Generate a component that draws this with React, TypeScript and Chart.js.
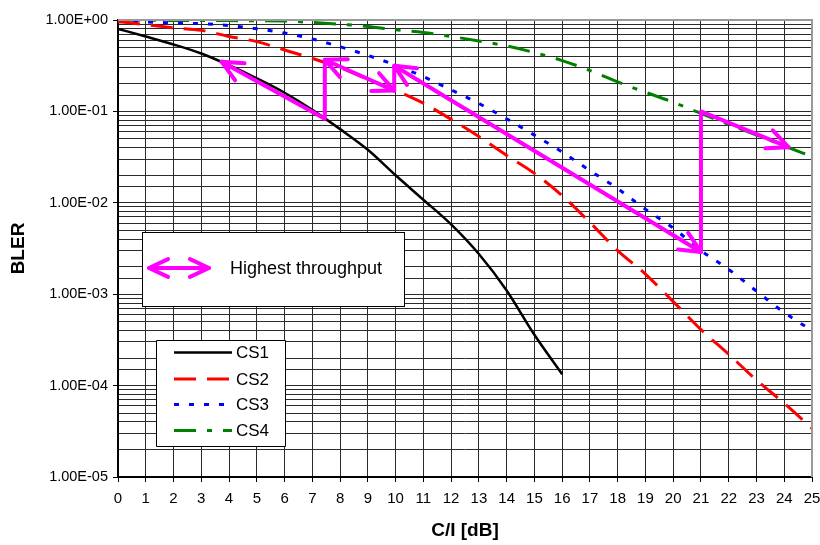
import React, { useEffect, useRef } from 'react';
import { Chart, registerables } from 'chart.js';

Chart.register(...registerables);

// ---- data ----
const ciValues = [0, 1, 2, 3, 4, 5, 6, 7, 8, 9, 10, 11, 12, 13, 14, 15, 16, 17, 18, 19, 20, 21, 22, 23, 24, 25];
const cs1 = [0.80, 0.66, 0.54, 0.43, 0.32, 0.23, 0.16, 0.104, 0.064, 0.038, 0.020, 0.0108, 0.0058, 0.00275, 0.0011, 0.00036, 0.000133];
const cs2 = [0.96, 0.89, 0.82, 0.77, 0.66, 0.58, 0.47, 0.38, 0.30, 0.225, 0.17, 0.123, 0.082, 0.053, 0.033, 0.021, 0.012, 0.0061, 0.003, 0.00166, 0.00083, 0.00041, 0.00022, 0.000115, 0.000064, 0.000034];
const cs3 = [0.97, 0.95, 0.93, 0.91, 0.87, 0.80, 0.72, 0.62, 0.51, 0.41, 0.32, 0.24, 0.172, 0.122, 0.083, 0.055, 0.036, 0.0225, 0.0143, 0.0085, 0.0053, 0.0030, 0.00187, 0.00108, 0.00063, 0.00040];
const cs4 = [0.995, 0.993, 0.99, 0.99, 0.985, 0.98, 0.975, 0.94, 0.90, 0.85, 0.78, 0.73, 0.66, 0.59, 0.52, 0.44, 0.36, 0.28, 0.21, 0.162, 0.126, 0.095, 0.072, 0.055, 0.042, 0.032];
const seriesNames = ['CS1', 'CS2', 'CS3', 'CS4'];

// "Highest throughput" path (C/I, BLER)
const pathX = [3.73, 7.45, 7.45, 9.95, 9.95, 21, 21, 24.15];
const pathY = [0.35, 0.083, 0.367, 0.169, 0.316, 0.0029, 0.1, 0.0406];
// arrow heads: [from index, tip index]
const headPairs = [[1, 0], [3, 2], [2, 3], [5, 4], [4, 5], [6, 7]];
const legendNote = 'Highest throughput';

const FONT = "'Liberation Sans', Arial, Helvetica, sans-serif";
const MAGENTA = '#FF00FF';

function isDecade(v: number) {
  if (!v) return false;
  const e = Math.log10(v);
  return Math.abs(e - Math.round(e)) < 1e-6;
}
function fmtE(v: number) {
  const e = Math.round(Math.log10(v));
  const s = e < 0 ? '-' : '+';
  return `1.00E${s}${String(Math.abs(e)).padStart(2, '0')}`;
}

function drawHead(ctx: CanvasRenderingContext2D, fx: number, fy: number, tx: number, ty: number, len = 23, ang = 25) {
  const a = Math.atan2(ty - fy, tx - fx);
  const r = (ang * Math.PI) / 180;
  ctx.beginPath();
  ctx.moveTo(tx + len * Math.cos(a + Math.PI - r), ty + len * Math.sin(a + Math.PI - r));
  ctx.lineTo(tx, ty);
  ctx.lineTo(tx + len * Math.cos(a + Math.PI + r), ty + len * Math.sin(a + Math.PI + r));
  ctx.stroke();
}

export default function App() {
  const ref = useRef<HTMLCanvasElement>(null);
  useEffect(() => {
    document.body.style.margin = '0';
    const canvas = ref.current!;
    const toPts = (ys: number[]) => ys.map((y, i) => ({ x: ciValues[i], y }));

    const overlay = {
      id: 'overlay',
      afterDatasetsDraw(chart: any) {
        const { ctx, chartArea, scales } = chart;
        const xs = scales.x, ys = scales.y;
        ctx.save();
        // plot area border top/right (gray)
        ctx.strokeStyle = '#9a9a9a';
        ctx.lineWidth = 2;
        ctx.beginPath();
        ctx.moveTo(chartArea.left, chartArea.top);
        ctx.lineTo(chartArea.right, chartArea.top);
        ctx.lineTo(chartArea.right, chartArea.bottom);
        ctx.stroke();
        // arrow heads
        ctx.strokeStyle = MAGENTA;
        ctx.lineWidth = 4;
        ctx.lineCap = 'round';
        ctx.lineJoin = 'round';
        headPairs.forEach(([f, t]) => {
          drawHead(ctx,
            xs.getPixelForValue(pathX[f]), ys.getPixelForValue(pathY[f]),
            xs.getPixelForValue(pathX[t]), ys.getPixelForValue(pathY[t]));
        });
        ctx.restore();
      },
      afterDraw(chart: any) {
        const { ctx } = chart;
        ctx.save();
        // legend box 1
        ctx.fillStyle = '#fff';
        ctx.strokeStyle = '#000';
        ctx.lineWidth = 1;
        ctx.fillRect(142.5, 232.5, 262, 74);
        ctx.strokeRect(142.5, 232.5, 262, 74);
        ctx.strokeStyle = MAGENTA;
        ctx.lineWidth = 4;
        ctx.lineCap = 'round';
        ctx.lineJoin = 'round';
        ctx.beginPath();
        ctx.moveTo(149, 268);
        ctx.lineTo(209, 268);
        ctx.stroke();
        drawHead(ctx, 209, 268, 149, 268, 21, 25);
        drawHead(ctx, 149, 268, 209, 268, 21, 25);
        ctx.fillStyle = '#000';
        ctx.font = `18px ${FONT}`;
        ctx.textBaseline = 'middle';
        ctx.textAlign = 'left';
        ctx.fillText(legendNote, 230, 269);

        // legend box 2
        ctx.fillStyle = '#fff';
        ctx.strokeStyle = '#000';
        ctx.lineWidth = 1;
        ctx.lineCap = 'butt';
        ctx.fillRect(156.5, 340.5, 129, 106);
        ctx.strokeRect(156.5, 340.5, 129, 106);
        const rows = [352.5, 379, 404.5, 430.5];
        chart.data.datasets.slice(1, 5).forEach((ds: any, i: number) => {
          ctx.save();
          ctx.strokeStyle = ds.borderColor;
          ctx.lineWidth = ds.borderWidth;
          ctx.setLineDash(ds.borderDash || []);
          ctx.beginPath();
          ctx.moveTo(174, rows[i]);
          ctx.lineTo(232, rows[i]);
          ctx.stroke();
          ctx.restore();
          ctx.fillStyle = '#000';
          ctx.font = `17px ${FONT}`;
          ctx.textBaseline = 'middle';
          ctx.fillText(ds.label, 236, rows[i] + 1);
        });
        ctx.restore();
      },
    };

    const chart = new Chart(canvas, {
      type: 'line',
      data: {
        datasets: [
          {
            label: 'path',
            data: pathX.map((x, i) => ({ x, y: pathY[i] })),
            borderColor: MAGENTA,
            borderWidth: 4,
            tension: 0,
            borderCapStyle: 'round',
            borderJoinStyle: 'round',
            order: 0,
          },
          { label: seriesNames[0], data: toPts(cs1), borderColor: '#000000', borderWidth: 2.5, cubicInterpolationMode: 'monotone', order: 1 },
          { label: seriesNames[1], data: toPts(cs2), borderColor: '#FF0000', borderWidth: 3, borderDash: [22, 11], cubicInterpolationMode: 'monotone', order: 2 },
          { label: seriesNames[2], data: toPts(cs3), borderColor: '#0000FF', borderWidth: 3, borderDash: [5, 10], cubicInterpolationMode: 'monotone', order: 3 },
          { label: seriesNames[3], data: toPts(cs4), borderColor: '#008000', borderWidth: 3, borderDash: [22, 11, 5, 11], cubicInterpolationMode: 'monotone', order: 4 },
        ] as any,
      },
      options: {
        responsive: false,
        animation: false,
        events: [],
        layout: { padding: { left: 0, right: 8, top: 20, bottom: 0 } },
        elements: { point: { radius: 0 } },
        plugins: { legend: { display: false }, tooltip: { enabled: false } },
        scales: {
          x: {
            type: 'linear',
            min: 0,
            max: 25,
            ticks: { stepSize: 1, autoSkip: false, maxRotation: 0, padding: 8, color: '#000', font: { size: 15, family: FONT } },
            grid: { color: '#2a2a2a', lineWidth: 1, tickLength: 5, tickColor: '#000' },
            border: { color: '#000', width: 2 },
            title: { display: true, text: 'C/I [dB]', color: '#000', font: { size: 19, weight: 'bold', family: FONT }, padding: { top: 0, bottom: 3 } },
            afterFit: (s: any) => { s.height = 68; s.paddingLeft = 0; s.paddingRight = 0; },
          },
          y: {
            type: 'logarithmic',
            min: 1e-5,
            max: 1,
            ticks: {
              autoSkip: false,
              padding: 5,
              color: '#000',
              font: { size: 14.5, family: FONT },
              callback: (v: any) => (isDecade(Number(v)) ? fmtE(Number(v)) : ''),
            },
            grid: {
              color: '#2a2a2a',
              lineWidth: 1,
              tickLength: 5,
              tickColor: (c: any) => (c.tick && isDecade(c.tick.value) ? '#000' : 'rgba(0,0,0,0)'),
            },
            border: { color: '#000', width: 2 },
            title: { display: true, text: 'BLER', color: '#000', font: { size: 19, weight: 'bold', family: FONT }, padding: { top: 7, bottom: 0 } },
            afterFit: (s: any) => { s.width = 118; s.paddingTop = 0; s.paddingBottom = 0; },
          },
        },
      } as any,
      plugins: [overlay],
    });
    return () => chart.destroy();
  }, []);

  return (
    <div style={{ width: 820, height: 545 }}>
      <canvas ref={ref} width={820} height={545} style={{ display: 'block' }} />
    </div>
  );
}
